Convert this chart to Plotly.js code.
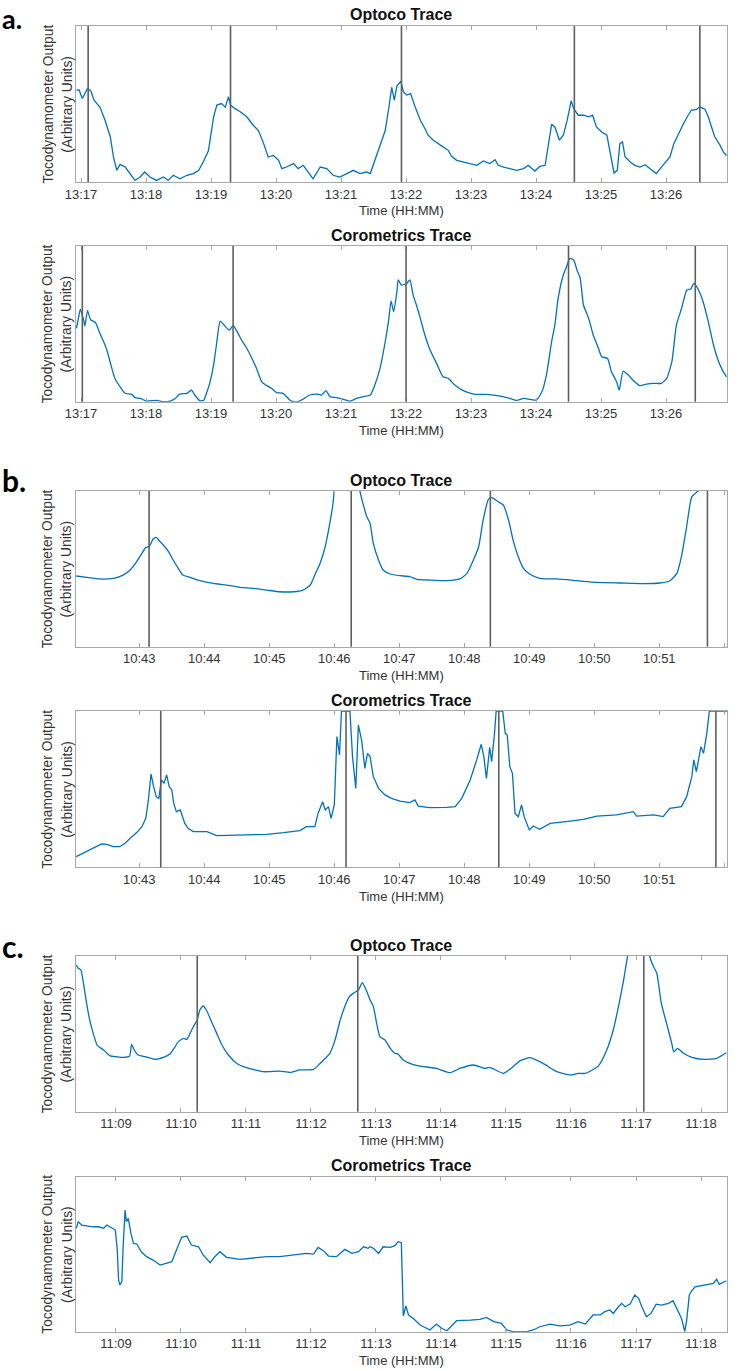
<!DOCTYPE html>
<html>
<head>
<meta charset="utf-8">
<script src="https://cdn.plot.ly/plotly-3.0.1.min.js"></script>
<style>html,body{margin:0;padding:0;background:#fff;}#chart{width:740px;height:1371px;}</style>
</head>
<body>
<div id="chart"></div>
<script>
// ---------- DATA (x = minutes past the hour, y = arbitrary units 0-100) ----------
// Panel a (13:xx)
const aTickVals = [17,18,19,20,21,22,23,24,25,26];
const aTickText = ['13:17','13:18','13:19','13:20','13:21','13:22','13:23','13:24','13:25','13:26'];
const aOptT = [16.93,16.97,17.02,17.06,17.10,17.15,17.20,17.29,17.37,17.45,17.50,17.55,17.60,17.68,17.75,17.83,17.91,17.98,18.06,18.16,18.27,18.34,18.42,18.52,18.63,18.73,18.81,18.88,18.96,19.00,19.04,19.09,19.16,19.22,19.27,19.30,19.37,19.45,19.55,19.65,19.73,19.81,19.88,19.96,20.04,20.09,20.16,20.27,20.34,20.42,20.50,20.57,20.68,20.78,20.88,20.98,21.09,21.19,21.29,21.39,21.45,21.52,21.60,21.68,21.73,21.78,21.82,21.86,21.92,21.96,22.01,22.07,22.14,22.22,22.29,22.34,22.42,22.50,22.57,22.65,22.70,22.78,22.88,22.98,23.09,23.19,23.29,23.37,23.42,23.50,23.60,23.70,23.81,23.88,23.98,24.06,24.14,24.19,24.24,24.29,24.36,24.42,24.48,24.54,24.58,24.65,24.73,24.81,24.87,24.93,25.01,25.09,25.14,25.20,25.25,25.29,25.33,25.37,25.45,25.52,25.60,25.68,25.75,25.85,25.91,25.98,26.06,26.12,26.19,26.27,26.34,26.39,26.47,26.52,26.60,26.65,26.70,26.75,26.83,26.88,26.93];
const aOptV = [58.9,59,53.5,56.7,60,58.5,52.5,48,39.6,29,16,7.5,11.3,9.6,5.4,1,3.2,6.4,3.2,1,3.2,1,4.3,2,4.3,5.4,7.5,12.8,20,31,41.8,49.3,50.3,48,54.6,49.3,47,45,41.8,36.4,33,24.6,16,17,13.9,8.6,9.6,11.8,8.6,10.7,6.4,2,9.6,8.6,4.3,3.2,5.4,7.5,5.4,6.4,5.4,13.9,22.5,33,46,60.6,52.5,61.5,64.7,57.8,55.7,56.7,48.2,39.6,34.3,30,26.8,24.2,22.5,20.3,16.5,13.9,12.8,11.8,10.7,13.5,11.8,14.3,10.7,9.6,8.6,7.5,8.6,10.7,7,10,10.7,24.6,37,35.3,26.8,30,39.6,52,47,42.8,42.8,41.8,42.8,35.3,32,30,18.2,5.8,7.5,24.6,25.7,16,12.8,10.7,9.6,11.1,8.6,5.4,8.6,11.8,16,24.6,31,37.5,42.8,46,46.5,48.2,46.5,41.8,35.3,29,23.6,19.3,17];
const aOptEvents = [17.11,19.30,21.93,24.59,26.52];

const aCoroT = [16.93,16.96,16.99,17.04,17.06,17.10,17.15,17.22,17.29,17.37,17.42,17.46,17.52,17.60,17.68,17.78,17.83,17.91,18.01,18.16,18.27,18.37,18.45,18.52,18.63,18.70,18.75,18.83,18.89,18.93,18.98,19.04,19.09,19.14,19.20,19.28,19.34,19.39,19.47,19.55,19.63,19.70,19.78,19.86,19.93,20.01,20.11,20.21,20.27,20.34,20.42,20.52,20.63,20.70,20.77,20.83,20.93,21.04,21.14,21.24,21.34,21.45,21.52,21.60,21.68,21.73,21.77,21.81,21.86,21.88,21.93,22.01,22.06,22.11,22.16,22.22,22.29,22.37,22.47,22.57,22.65,22.75,22.88,23.04,23.24,23.45,23.60,23.70,23.81,23.91,24.01,24.09,24.16,24.24,24.29,24.34,24.42,24.47,24.52,24.58,24.63,24.68,24.73,24.81,24.88,24.96,25.01,25.10,25.16,25.24,25.28,25.34,25.42,25.50,25.60,25.70,25.81,25.93,26.01,26.09,26.16,26.24,26.32,26.38,26.43,26.50,26.57,26.65,26.73,26.81,26.88,26.93];
const aCoroV = [47.1,53.5,59.5,52.5,48.6,58.5,52.5,51,43.9,36.4,30,23.6,15,9.6,5.4,4.7,2.6,2.1,0.4,0.9,0,0.4,2.1,4.9,5.4,7.5,4.3,0.6,1,5.4,11.8,23.6,38.5,51.8,49.3,46,48.8,46,39.6,34.3,27.8,21.4,12.8,10.3,8.6,5.8,5.4,1.1,0,0,1.7,4.3,4.9,4.3,7.1,3.2,2.6,1.5,0.4,2.1,3.2,4.3,10.7,21.4,38.5,51.4,64.7,57.8,70.7,78.2,74.9,76,78.2,68.5,62.1,53.5,42.8,33.2,24.6,16,15,10.7,7.1,4.9,4.7,3.6,2.1,0.9,2.1,1.5,1.1,6.4,17.1,38.5,49.3,66.4,81.4,86.7,92.1,91,84.6,79.2,62.1,53.5,42.8,34.3,28.9,27.8,19.3,12.8,7.5,19.7,17.1,13.5,10.3,11.3,11.8,11.8,15,25.7,49.3,60,71.7,72.4,76,71.7,64.2,51.4,36.4,25.7,19.3,16];
const aCoroEvents = [17.02,19.34,22.00,24.50,26.45];

// Panel b (10:xx)
const bTickVals = [43,44,45,46,47,48,49,50,51,52];
const bTickText = ['10:43','10:44','10:45','10:46','10:47','10:48','10:49','10:50','10:51','10:52'];
const bOptT = [42.03,42.19,42.39,42.60,42.75,42.86,42.96,43.04,43.10,43.15,43.21,43.26,43.31,43.37,43.45,43.52,43.60,43.67,43.78,43.93,44.14,44.34,44.55,44.75,44.96,45.16,45.37,45.52,45.63,45.70,45.78,45.86,45.93,45.98,46.01,46.15,46.30,46.39,46.50,46.55,46.60,46.68,46.75,46.86,47.01,47.16,47.27,47.47,47.73,47.93,48.04,48.14,48.22,48.29,48.37,48.42,48.52,48.60,48.68,48.75,48.83,48.91,49.01,49.16,49.42,49.73,50.04,50.39,50.75,51.01,51.16,51.27,51.34,51.42,51.50,51.60,51.68,51.90,52.04];
const bOptV = [45.4,44.5,43.5,43.9,46,49.3,54.6,60,63.8,64.2,69,70.2,67.9,65.3,61,55.7,50.3,46,44.5,42.4,40.7,39.6,38.1,37.5,36.4,35.3,35.3,36.4,39.6,46,53.5,64.2,79.2,92,105,140,140,100.6,83.5,79.2,66.4,55.7,49.3,46.7,45.6,45,43.3,42.8,42.4,43.5,47.1,55.7,64.2,81.4,94.6,95.7,93.1,91,81.4,68.5,57.8,50.3,46.5,43.9,43.5,42.4,41.3,40.9,40.5,40.9,42.2,47.1,57.8,77.1,96.4,100.2,105,140,140];
const bOptEvents = [43.15,46.26,48.40,51.74];

const bCoroT = [42.03,42.14,42.24,42.34,42.42,42.50,42.60,42.70,42.78,42.86,42.96,43.04,43.10,43.14,43.18,43.22,43.26,43.30,43.34,43.38,43.42,43.46,43.50,43.53,43.57,43.63,43.67,43.70,43.75,43.83,43.93,44.04,44.19,44.45,44.70,44.96,45.22,45.47,45.57,45.70,45.75,45.82,45.86,45.91,45.95,46.00,46.04,46.08,46.11,46.24,46.28,46.33,46.37,46.42,46.47,46.51,46.55,46.60,46.68,46.78,46.88,47.01,47.16,47.24,47.29,47.47,47.73,47.86,47.96,48.09,48.19,48.26,48.30,48.34,48.39,48.42,48.46,48.49,48.59,48.63,48.66,48.70,48.74,48.78,48.83,48.88,48.92,48.96,49.00,49.06,49.16,49.32,49.47,49.63,49.83,50.04,50.34,50.60,50.65,50.91,51.06,51.16,51.34,51.42,51.50,51.53,51.57,51.64,51.68,51.73,51.77,52.04];
const bCoroV = [6.8,9,11.5,13.2,14.9,14.7,13.2,13.2,15.4,18.6,22.2,26,31.3,43.1,59.7,51.6,45.2,44.1,55.9,53.7,59.1,51.6,49.5,40.9,35.6,36.7,31.3,28.1,24.9,22.8,22.8,22.8,20.3,20.7,21.1,21.1,22.2,23.5,26,26,34.5,42,36.7,38.8,31.3,39.9,83.6,71.9,100,100,70.8,50.5,91,81.4,63.3,72.9,70.8,58,50.5,46.3,44.1,42.4,41.4,43.1,39.2,38.2,38.4,38.8,44.1,55.9,68.7,78.7,70.8,56.9,76.8,67.6,83.6,100,100,85.7,84.6,64.4,60.1,34.5,32.4,39.9,32.4,28.1,23.9,26.4,24.3,28.1,28.6,29.6,30.7,32.8,33.5,35.6,32.8,33.5,32.4,37.7,38.8,45.2,58,68.7,61.2,77.2,72.9,85.7,100,100];
const bCoroEvents = [43.33,46.18,48.53,51.87];

// Panel c (11:xx)
const cTickVals = [9,10,11,12,13,14,15,16,17,18];
const cTickText = ['11:09','11:10','11:11','11:12','11:13','11:14','11:15','11:16','11:17','11:18'];
const cOptT = [8.39,8.42,8.46,8.50,8.54,8.59,8.65,8.71,8.81,8.91,9.01,9.11,9.21,9.24,9.28,9.34,9.45,9.60,9.73,9.83,9.91,9.96,10.04,10.09,10.14,10.19,10.25,10.29,10.34,10.39,10.47,10.55,10.63,10.73,10.86,11.01,11.27,11.52,11.68,11.83,12.04,12.14,12.29,12.37,12.45,12.52,12.59,12.65,12.73,12.79,12.86,12.91,12.96,13.01,13.06,13.14,13.22,13.29,13.34,13.42,13.55,13.68,13.93,14.14,14.29,14.50,14.68,14.75,14.96,15.06,15.22,15.37,15.57,15.78,15.98,16.11,16.22,16.42,16.55,16.65,16.73,16.81,16.87,16.91,17.00,17.12,17.21,17.27,17.32,17.39,17.47,17.55,17.58,17.64,17.73,17.86,18.04,18.24,18.39];
const cOptV = [94.2,92.1,91,82.4,71.7,60,50.3,42.8,39.6,35.8,35.3,34.9,35.8,43.3,39.6,36.4,35.3,33.6,34.9,37,41.8,45,47.1,46.5,50.3,54.6,58.9,65.3,67.9,65.3,57.8,50.3,42.8,36.4,31,28.3,25.7,26.1,25.3,26.8,27.2,31,37.5,46,58.9,67.5,73.9,76,78.2,82.9,77.1,71.7,67.5,56.7,48.2,46,40.7,37.5,37,33.2,30.6,29.3,27.8,25.1,27.8,30,27.8,28.5,24.6,27.2,32.8,34.7,31,25.7,23.6,24.6,24.6,29.3,39.6,52.5,67.5,84.6,100,108,130,130,100,93.1,88.9,69.6,56.7,43.9,38.5,40.7,37.5,34.9,33.6,34.3,37.9];
const cOptEvents = [10.25,12.72,17.12];

const cCoroT = [8.39,8.42,8.47,8.55,8.65,8.73,8.81,8.86,8.93,8.99,9.02,9.04,9.06,9.09,9.11,9.14,9.16,9.19,9.23,9.27,9.32,9.39,9.47,9.57,9.68,9.78,9.86,9.93,10.01,10.09,10.16,10.27,10.34,10.45,10.52,10.60,10.70,10.91,11.11,11.32,11.52,11.73,11.93,12.04,12.11,12.19,12.27,12.39,12.52,12.63,12.73,12.81,12.88,12.91,12.96,13.04,13.11,13.22,13.29,13.34,13.39,13.42,13.46,13.50,13.57,13.68,13.83,13.93,14.01,14.09,14.19,14.24,14.45,14.60,14.70,14.81,14.93,15.01,15.11,15.32,15.42,15.52,15.68,15.83,15.98,16.11,16.22,16.34,16.45,16.52,16.60,16.65,16.73,16.78,16.83,16.91,16.98,17.04,17.09,17.16,17.23,17.31,17.39,17.50,17.57,17.63,17.70,17.75,17.78,17.82,17.86,17.91,18.04,18.19,18.24,18.28,18.39];
const cCoroV = [66.7,71,68.8,68.2,67.7,67.7,66.7,68.8,67.3,65.6,52.7,33.3,30.1,32.3,54.8,78.5,71,73.1,63.4,57,56.6,51.6,48.4,46.2,43,44.5,45.2,52.7,60.9,61.7,55.9,54.8,49.5,44.5,48.4,51.6,48,46.7,47.3,48.4,48.4,49.5,50.5,50.1,54.4,52.3,48.8,48.4,53.1,50.5,51.6,54.8,53.8,54.8,53.8,50.5,54.8,54.4,55.5,58.1,57.4,10.1,16.6,10.8,8.6,4.3,1.1,4.9,2.2,0.6,5.4,7.1,7.5,8,9.2,6.5,5.4,1.1,0,0,1.1,3.2,4.9,3.7,4.3,6.5,4.9,10.8,10.8,12.9,14,11.8,16.1,18.3,16.1,17.8,23.7,21.5,16.1,9.7,11.8,17.8,17.2,18.3,20,15.1,8.6,0,7.5,23.7,26.5,29,30.1,31.2,33.8,30.5,32.9];
const cCoroEvents = [];

// ---------- LAYOUT ----------
const W = 740, H = 1371;
const plotL = 76, plotR = 727;
const panels = [
  {t:26,    b:182,   title:'Optoco Trace',      T:aOptT,  V:aOptV,  ev:aOptEvents,  tv:aTickVals, tt:aTickText, range:[16.923,26.938], smooth:false},
  {t:246,   b:401.7, title:'Corometrics Trace', T:aCoroT, V:aCoroV, ev:aCoroEvents, tv:aTickVals, tt:aTickText, range:[16.923,26.938], smooth:true},
  {t:491,   b:646.7, title:'Optoco Trace',      T:bOptT,  V:bOptV,  ev:bOptEvents,  tv:bTickVals, tt:bTickText, range:[42.026,52.041], smooth:true},
  {t:711,   b:867.3, title:'Corometrics Trace', T:bCoroT, V:bCoroV, ev:bCoroEvents, tv:bTickVals, tt:bTickText, range:[42.026,52.041], smooth:false},
  {t:956,   b:1111.7,title:'Optoco Trace',      T:cOptT,  V:cOptV,  ev:cOptEvents,  tv:cTickVals, tt:cTickText, range:[8.385,18.40], smooth:true},
  {t:1176.7,b:1331.7,title:'Corometrics Trace', T:cCoroT, V:cCoroV, ev:cCoroEvents, tv:cTickVals, tt:cTickText, range:[8.385,18.40], smooth:false}
];
const FONT = 'Liberation Sans, Arial, Helvetica, sans-serif';
const axisGrey = '#a8a8a8';
const textCol = '#333333';
const py = p => 1 - p / H;
const px = p => p / W;

const traces = [];
const shapes = [];
const annotations = [];
const layout = {
  width: W, height: H,
  margin: {l:0, r:0, t:0, b:0},
  paper_bgcolor: '#fff', plot_bgcolor: '#fff',
  showlegend: false,
  font: {family: FONT, size: 13, color: textCol}
};

panels.forEach((p, i) => {
  const n = i + 1;
  const xa = n === 1 ? 'x' : 'x' + n;
  const ya = n === 1 ? 'y' : 'y' + n;
  traces.push({
    type: 'scatter', mode: 'lines', x: p.T, y: p.V,
    xaxis: xa, yaxis: ya,
    line: p.smooth ? {color: '#0072BD', width: 1.3, shape: 'spline', smoothing: 0.5}
                   : {color: '#0072BD', width: 1.3},
    hoverinfo: 'skip'
  });
  layout['xaxis' + (n === 1 ? '' : n)] = {
    domain: [px(plotL), px(plotR)], anchor: ya,
    range: p.range, showgrid: false, zeroline: false,
    showline: true, linecolor: axisGrey, linewidth: 1, mirror: 'ticks',
    ticks: 'inside', ticklen: 4, tickcolor: axisGrey, tickwidth: 1,
    tickmode: 'array', tickvals: p.tv, ticktext: p.tt,
    tickfont: {family: FONT, size: 13, color: textCol}
  };
  layout['yaxis' + (n === 1 ? '' : n)] = {
    domain: [py(p.b), py(p.t)], anchor: xa,
    range: [0, 100], showgrid: false, zeroline: false,
    showline: true, linecolor: axisGrey, linewidth: 1, mirror: true,
    ticks: '', showticklabels: false
  };
  p.ev.forEach(e => shapes.push({
    type: 'line', xref: xa, yref: ya + ' domain', x0: e, x1: e, y0: 0, y1: 1,
    line: {color: '#5f5f5f', width: 1.6}, layer: 'above'
  }));
  const cx = px((plotL + plotR) / 2);
  annotations.push({xref:'paper', yref:'paper', x: cx, y: py(p.t - 11), xanchor:'center', yanchor:'middle',
    text: '<b>' + p.title + '</b>', showarrow: false, font: {family: FONT, size: 16, color: '#111'}});
  annotations.push({xref:'paper', yref:'paper', x: cx, y: py(p.b + 29), xanchor:'center', yanchor:'middle',
    text: 'Time (HH:MM)', showarrow: false, font: {family: FONT, size: 13, color: textCol}});
  const my = py((p.t + p.b) / 2);
  annotations.push({xref:'paper', yref:'paper', x: px(47.5), y: my, xanchor:'center', yanchor:'middle', textangle: -90,
    text: 'Tocodynamometer Output', showarrow: false, font: {family: FONT, size: 13.8, color: textCol}});
  annotations.push({xref:'paper', yref:'paper', x: px(66.7), y: my, xanchor:'center', yanchor:'middle', textangle: -90,
    text: '(Arbitrary Units)', showarrow: false, font: {family: FONT, size: 13.8, color: textCol}});
});

// panel letters
[['a.', 0, 'top'], ['b.', 480, 'middle'], ['c.', 946, 'middle']].forEach(([t, y, anc]) => {
  annotations.push({xref:'paper', yref:'paper', x: px(0), y: py(y), xanchor:'left', yanchor: anc,
    text: '<b>' + t + '</b>', showarrow: false, font: {family: 'Lato, Open Sans, sans-serif', size: anc === 'top' ? 27 : 30, color: '#000'}});
});

layout.shapes = shapes;
layout.annotations = annotations;
Plotly.newPlot('chart', traces, layout, {staticPlot: true, displayModeBar: false});
</script>
</body>
</html>
